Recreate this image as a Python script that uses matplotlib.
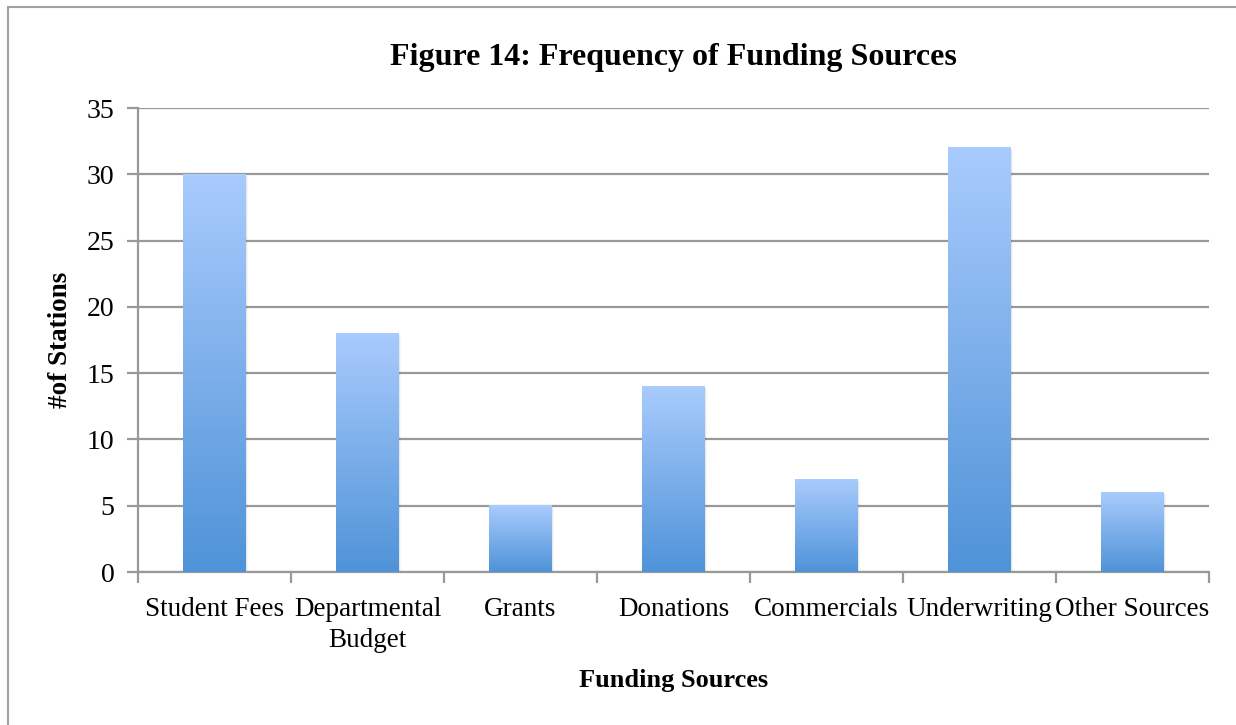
import numpy as np
import matplotlib.pyplot as plt
from matplotlib.colors import LinearSegmentedColormap
from matplotlib.patches import Rectangle

categories = ['Student Fees', 'Departmental\nBudget', 'Grants', 'Donations',
              'Commercials', 'Underwriting', 'Other Sources']
stations = [30, 18, 5, 14, 7, 32, 6]
y_ticks = [0, 5, 10, 15, 20, 25, 30, 35]

plt.rcParams['font.family'] = ['Liberation Serif', 'DejaVu Serif']

fig = plt.figure(figsize=(12.36, 7.25), dpi=100)
ax = fig.add_axes([138 / 1236, 1 - 572 / 725, (1209 - 138) / 1236, (572 - 108) / 725])

# outer chart frame (runs off the right and bottom edges)
fig.patches.append(Rectangle((8 / 1236, -0.1), 1.2, 1 - 7 / 725 + 0.1,
                             transform=fig.transFigure, fill=False,
                             edgecolor='#a0a0a0', linewidth=1.5))

grad = LinearSegmentedColormap.from_list('bar', ['#4f93d8', '#a9cbfd'])
x = np.arange(len(categories))
width = 0.41

for xi, v in zip(x, stations):
    # soft drop shadow
    for k, a in enumerate([0.10, 0.06, 0.03]):
        ax.add_patch(Rectangle((xi - width / 2 + 0.004 * (k + 1), 0), width,
                               v - 0.05 * (k + 1), facecolor='black', alpha=a,
                               edgecolor='none', zorder=2))
    g = np.linspace(0, 1, 256).reshape(-1, 1)
    ax.imshow(g, extent=[xi - width / 2, xi + width / 2, 0, v], origin='lower',
              cmap=grad, aspect='auto', zorder=3)

ax.set_xlim(-0.5, len(categories) - 0.5)
ax.set_ylim(0, 35)

ax.set_yticks(y_ticks)
ax.yaxis.grid(True, color='#999999', linewidth=1.6)
ax.set_axisbelow(True)
ax.set_xticks(np.arange(len(categories) + 1) - 0.5, minor=False)
ax.set_xticklabels([])
ax.set_xticks(x, minor=True)
ax.set_xticklabels(categories, minor=True, fontsize=19.5, linespacing=1.3)
ax.tick_params(axis='x', which='minor', length=0, pad=18)
ax.tick_params(axis='x', which='major', length=8, width=1.6, color='#999999')
ax.tick_params(axis='y', length=8, width=1.6, color='#999999', labelsize=20, pad=9)

for side in ['top', 'right']:
    ax.spines[side].set_visible(False)
for side in ['left', 'bottom']:
    ax.spines[side].set_color('#999999')
    ax.spines[side].set_linewidth(1.6)

ax.set_title('Figure 14: Frequency of Funding Sources', fontsize=23,
             fontweight='bold', pad=31)
ax.set_ylabel('#of Stations', fontsize=19.5, fontweight='bold', labelpad=10)
ax.set_xlabel('Funding Sources', fontsize=19, fontweight='bold', labelpad=12)

fig.savefig('out.png', dpi=100)
